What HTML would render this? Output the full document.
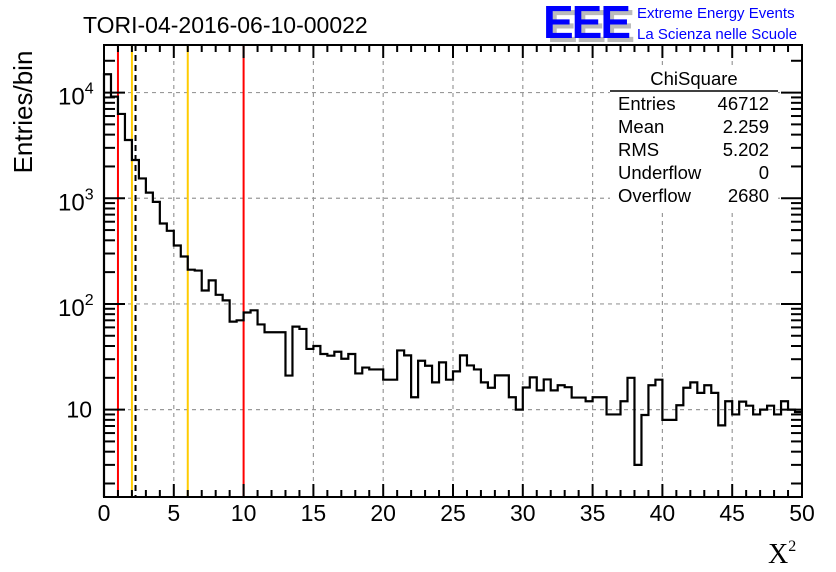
<!DOCTYPE html>
<html><head><meta charset="utf-8"><style>
body{margin:0;background:#fff;}
svg{display:block;font-family:"Liberation Sans",sans-serif;}
</style></head><body>
<svg id="c" width="836" height="572" viewBox="0 0 836 572">
<rect width="836" height="572" fill="#fff"/>
<g id="grid"></g>
<g id="vlines"></g>
<path id="hist" fill="none" stroke="#000" stroke-width="2.2"/>
<g id="ticks"></g>
<rect x="104" y="45" width="698" height="452" fill="none" stroke="#000" stroke-width="2"/>
<g id="labels" font-size="23"></g>
<text x="83" y="33" font-size="23">TORI-04-2016-06-10-00022</text>
<text transform="translate(32,112) rotate(-90)" text-anchor="middle" font-size="26">Entries/bin</text>
<text x="768" y="563" font-size="28" font-family="Liberation Serif,serif">X<tspan font-size="16" dy="-12">2</tspan></text>
<g>
<text x="547" y="42" font-size="46" font-weight="bold" fill="#bbb" letter-spacing="-2">EEE</text>
<text x="543" y="38" font-size="46" font-weight="bold" fill="#0000ff" letter-spacing="-2">EEE</text>
<text x="637" y="18" font-size="15" fill="#0000ff">Extreme Energy Events</text>
<text x="637" y="39" font-size="15" fill="#0000ff">La Scienza nelle Scuole</text>
</g>
<g font-size="18.5">
<rect x="610" y="65" width="168" height="145" fill="#fff"/>
<text x="694" y="85" text-anchor="middle">ChiSquare</text>
<line x1="610" y1="91" x2="778" y2="91" stroke="#000" stroke-width="1.5"/>
<text x="618" y="110">Entries</text><text x="769" y="110" text-anchor="end">46712</text>
<text x="618" y="133">Mean</text><text x="769" y="133" text-anchor="end">2.259</text>
<text x="618" y="156">RMS</text><text x="769" y="156" text-anchor="end">5.202</text>
<text x="618" y="179">Underflow</text><text x="769" y="179" text-anchor="end">0</text>
<text x="618" y="202">Overflow</text><text x="769" y="202" text-anchor="end">2680</text>
</g>
</svg>
<script>
const binWidth = 0.5;
const counts = [14900,9150,6280,3560,2300,1540,1130,925,577,492,357,281,211,207,134,167,122,108,68,70,
83,87,64,54,54,54,21,61,58,37.5,40,33.6,32.4,35.3,30.3,33.6,22,25,24,24,
19.2,19.2,36.3,32.6,13.1,29,26,18.1,28,19.2,23,32.6,26.2,24,18.1,16.1,21.1,21.1,13.1,10,
16.2,20.2,15.2,19.3,15.2,17,16.3,13,13,12,13.1,13.1,9,9,12,20,3,8.9,17,19.2,
8,8,11,16.1,18.1,14.4,17,14.4,7.1,12,9,11.9,10.9,9,10,10.9,9,12,10,9.5];
const xTicks = [0,5,10,15,20,25,30,35,40,45,50];
const yDecades = [10,100,1000,10000];
const yDecadeLabels = ["10","10^2","10^3","10^4"];
const markerRed = [1,10];
const markerYellow = [2,6];
const markerMean = [2.259];

const X0=104, X1=802, Y0=497, Y1=45;
const xmin=0,xmax=50;
const ymin=1.49, ymax=28200;
function xp(v){return X0+(v-xmin)/(xmax-xmin)*(X1-X0);}
function yp(v){const a=Math.log10(ymin),b=Math.log10(ymax);return Y0-(Math.log10(v)-a)/(b-a)*(Y0-Y1);}
const NS="http://www.w3.org/2000/svg";
function mk(tag,attrs,parent){const e=document.createElementNS(NS,tag);for(const k in attrs)e.setAttribute(k,attrs[k]);parent.appendChild(e);return e;}

let d="M"+xp(0)+","+Y0;
counts.forEach((c,i)=>{const y=yp(c);d+=" L"+xp(i*binWidth)+","+y+" L"+xp((i+1)*binWidth)+","+y;});
document.getElementById('hist').setAttribute('d',d);

const grid=document.getElementById('grid');
xTicks.forEach(t=>{if(t>xmin&&t<xmax){const l=mk('line',{x1:xp(t),x2:xp(t),y1:Y1,y2:Y0,stroke:'#999','stroke-dasharray':'4,4','stroke-width':1.2},grid);

}});
yDecades.forEach(t=>{const l=mk('line',{x1:X0,x2:X1,y1:yp(t),y2:yp(t),stroke:'#999','stroke-dasharray':'4,4','stroke-width':1.2},grid);

});

const vl=document.getElementById('vlines');
markerRed.forEach(v=>{const l=mk('line',{x1:xp(v),x2:xp(v),y1:Y1,y2:Y0,stroke:'#ff0000','stroke-width':2},vl);

});
markerYellow.forEach(v=>{const l=mk('line',{x1:xp(v),x2:xp(v),y1:Y1,y2:Y0,stroke:'#ffcc00','stroke-width':2},vl);

});
markerMean.forEach(v=>{const l=mk('line',{x1:xp(v),x2:xp(v),y1:Y1,y2:Y0,stroke:'#000','stroke-width':2,'stroke-dasharray':'6,4'},vl);

});

const tk=document.getElementById('ticks');
for(let v=xmin;v<=xmax;v+=1){const major=v%5===0;const len=major?13:7;
mk('line',{x1:xp(v),x2:xp(v),y1:Y0,y2:Y0-len,stroke:'#000','stroke-width':2},tk);
mk('line',{x1:xp(v),x2:xp(v),y1:Y1,y2:Y1+len,stroke:'#000','stroke-width':2},tk);}
for(let e=0;e<=4;e++){for(let m=1;m<=9;m++){const v=m*Math.pow(10,e);if(v<ymin||v>ymax)continue;const len=m===1?21:11;
mk('line',{x1:X0,x2:X0+len,y1:yp(v),y2:yp(v),stroke:'#000','stroke-width':2},tk);
mk('line',{x1:X1,x2:X1-len,y1:yp(v),y2:yp(v),stroke:'#000','stroke-width':2},tk);}}

const lb=document.getElementById('labels');
xTicks.forEach(t=>{const e=mk('text',{x:xp(t),y:521,'text-anchor':'middle'},lb);e.textContent=t;

});
yDecades.forEach((t,i)=>{const s=yDecadeLabels[i];let e;
if(s.indexOf('^')<0){e=mk('text',{x:92,y:yp(t)+8,'text-anchor':'end'},lb);e.textContent=s;}
else{const p=s.split('^');e=mk('text',{x:58,y:yp(t)+12,'font-size':24},lb);e.textContent=p[0];const sp=mk('tspan',{dy:-11,'font-size':16},e);sp.textContent=p[1];}

});
</script>
</body></html>
